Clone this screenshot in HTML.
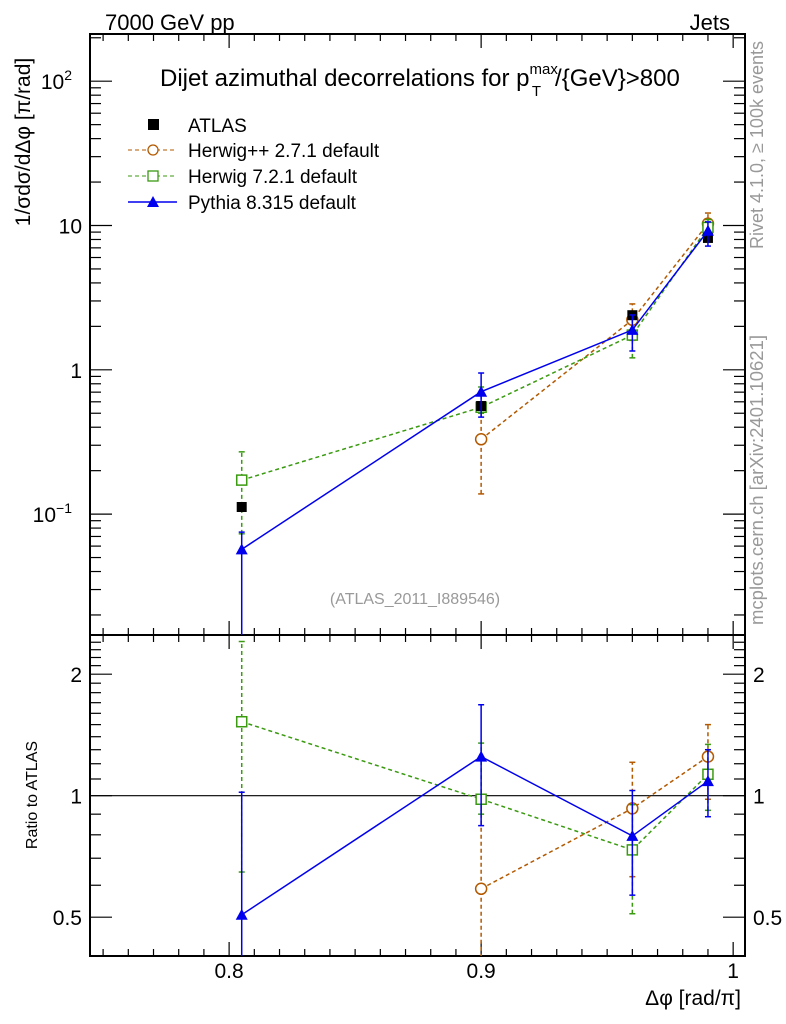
<!DOCTYPE html>
<html><head><meta charset="utf-8"><style>
body{margin:0;background:#fff}
svg{display:block;font-family:"Liberation Sans",sans-serif}
</style></head><body>
<svg id="c" width="786" height="1024" viewBox="0 0 786 1024">
<text x="105" y="30" font-size="22">7000 GeV pp</text>
<text x="730" y="30" font-size="22" text-anchor="end">Jets</text>
<text x="160" y="86" font-size="24">Dijet azimuthal decorrelations for p<tspan dy="-12" font-size="15">max</tspan><tspan dx="-26" dy="22" font-size="15">T</tspan><tspan dx="14" dy="-10">/{GeV}&gt;800</tspan></text>
<text transform="translate(30,142) rotate(-90)" font-size="21" text-anchor="middle">1/σdσ/dΔφ [π/rad]</text>
<text transform="translate(37,795) rotate(-90)" font-size="16" text-anchor="middle">Ratio to ATLAS</text>
<text x="741" y="1005" font-size="21" text-anchor="end">Δφ [rad/π]</text>
<text transform="translate(763,145) rotate(-90)" font-size="18" fill="#999" text-anchor="middle">Rivet 4.1.0, ≥ 100k events</text>
<text transform="translate(763,480) rotate(-90)" font-size="18.5" fill="#999" text-anchor="middle">mcplots.cern.ch [arXiv:2401.10621]</text>
<text x="415" y="604" font-size="16" fill="#999" text-anchor="middle">(ATLAS_2011_I889546)</text>
<g id="legend">
<rect x="148" y="119" width="11" height="11" fill="#000"/>
<text x="188" y="132" font-size="19">ATLAS</text>
<line x1="128" y1="150" x2="177" y2="150" stroke="#b35900" stroke-dasharray="4,3"/>
<circle cx="153" cy="150" r="5" fill="#fff" stroke="#b35900" stroke-width="1.3"/>
<text x="188" y="157" font-size="19">Herwig++ 2.7.1 default</text>
<line x1="128" y1="176" x2="177" y2="176" stroke="#3a9a10" stroke-dasharray="4,3"/>
<rect x="148" y="171" width="10" height="10" fill="#fff" stroke="#3a9a10" stroke-width="1.3"/>
<text x="188" y="183" font-size="19">Herwig 7.2.1 default</text>
<line x1="128" y1="202" x2="177" y2="202" stroke="#0000ee" stroke-width="1.5"/>
<path d="M147,207 L153,196 L159,207 Z" fill="#0000ee"/>
<text x="188" y="209" font-size="19">Pythia 8.315 default</text>
</g>
</svg>
<script>
const xs=[0.805,0.9,0.96,0.99];
const atlasVals=[0.112,0.561,2.39,8.2];
const pyVals=[0.057,0.705,1.89,9.2];
const pyLo=[0.001,0.47,1.35,7.2];
const pyHi=[0.075,0.95,2.4,10.6];
const h7Vals=[0.172,0.55,1.74,9.7];
const h7Lo=[0.073,0.5,1.21,8.6];
const h7Hi=[0.27,0.76,2.3,11];
const hpVals=[null,0.33,2.22,10.3];
const hpLo=[null,0.138,1.6,9];
const hpHi=[null,0.55,2.86,12.2];
const rPy=[0.507,1.25,0.795,1.087];
const rPyLo=[0.3,0.843,0.567,0.887];
const rPyHi=[1.02,1.68,1.03,1.30];
const rH7=[1.525,0.98,0.734,1.13];
const rH7Lo=[0.647,0.9,0.51,0.92];
const rH7Hi=[2.41,1.35,0.95,1.34];
const rHp=[null,0.588,0.93,1.25];
const rHpLo=[null,0.3,0.63,0.98];
const rHpHi=[null,0.98,1.21,1.5];
const xTicks=[0.8,0.9,1];
const xTickLabels=["0.8","0.9","1"];
const rTicks=[0.5,1,2];
const rTickLabels=["0.5","1","2"];

const NS="http://www.w3.org/2000/svg";
const svg=document.getElementById('c');
const L=90,R=745,T=34,M=635,B=956;
const X0=0.7448,X1=1.0047;
const X=v=>L+(v-X0)/(X1-X0)*(R-L);
const Y=v=>369.8-Math.log10(v)*144.3;
const RY=v=>795.7-Math.log2(v)*121.5;
function mk(t,a,p){const e=document.createElementNS(NS,t);for(const k in a)e.setAttribute(k,a[k]);(p||svg).appendChild(e);return e;}
const clip=mk('clipPath',{id:'cm'});mk('rect',{x:L,y:T,width:R-L,height:M-T},clip);
const clip2=mk('clipPath',{id:'cr'});mk('rect',{x:L,y:M,width:R-L,height:B-M},clip2);

const f1=mk('rect',{x:L,y:T,width:R-L,height:M-T,fill:'none',stroke:'#000','stroke-width':2});


const f2=mk('rect',{x:L,y:M,width:R-L,height:B-M,fill:'none',stroke:'#000','stroke-width':2});



for(let i=75;i<=100;i++){const v=i/100;const x=X(v);const maj=(i%10===0);const len=maj?14:7;
 for(const [yb,dir] of [[T,1],[M,-1],[M,1],[B,-1]]){mk('line',{x1:x,y1:yb,x2:x,y2:yb+dir*len,stroke:'#000','stroke-width':1.2});}}
xTicks.forEach((v,i)=>{const t=mk('text',{x:X(v),y:978,'font-size':21,'text-anchor':'middle'});t.textContent=xTickLabels[i];

});

for(let d=-2;d<=2;d++){for(let m=1;m<=9;m++){const v=m*Math.pow(10,d);const y=Y(v);if(y<T||y>M)continue;const len=m===1?22:11;
 mk('line',{x1:L,y1:y,x2:L+len,y2:y,stroke:'#000','stroke-width':1.2});mk('line',{x1:R,y1:y,x2:R-len,y2:y,stroke:'#000','stroke-width':1.2});}}
[[0.1,'10','−1'],[1,'1',null],[10,'10',null],[100,'10','2']].forEach(([v,b,e])=>{const t=mk('text',{x:e?72:82,y:Y(v)+8,'font-size':21,'text-anchor':'end'});
 t.textContent=b;if(e){const s=mk('tspan',{dy:-9,'font-size':14},t);s.textContent=e;}
 
 });

[0.4,0.5,0.6,0.7,0.8,0.9,1,1.1,1.2,1.3,1.4,1.5,1.6,1.7,1.8,1.9,2,2.1,2.2,2.3,2.4].forEach(v=>{const y=RY(v);const maj=[0.5,1,2].includes(v);const len=maj?22:11;
 mk('line',{x1:L,y1:y,x2:L+len,y2:y,stroke:'#000','stroke-width':1.2});mk('line',{x1:R,y1:y,x2:R-len,y2:y,stroke:'#000','stroke-width':1.2});});
rTicks.forEach((v,i)=>{for(const [x,a] of [[82,'end'],[753,'start']]){const t=mk('text',{x:x,y:RY(v)+8,'font-size':21,'text-anchor':a});t.textContent=rTickLabels[i];

}});
mk('line',{x1:L,y1:RY(1),x2:R,y2:RY(1),stroke:'#000','stroke-width':1.2});

function series(vals,lo,hi,yf,color,dash,marker,cp,name){
 const g=mk('g',{'clip-path':'url(#'+cp+')'});
 
 
 let d='';vals.forEach((v,i)=>{if(v==null)return;d+=(d?'L':'M')+X(xs[i])+','+yf(v);});
 mk('path',{d:d,fill:'none',stroke:color,'stroke-width':1.5,'stroke-dasharray':dash||''},g);
 vals.forEach((v,i)=>{if(v==null)return;const x=X(xs[i]);
  if(lo){mk('line',{x1:x,y1:yf(lo[i]),x2:x,y2:yf(hi[i]),stroke:color,'stroke-width':1.5,'stroke-dasharray':dash||''},g);
   mk('line',{x1:x-3,y1:yf(lo[i]),x2:x+3,y2:yf(lo[i]),stroke:color,'stroke-width':1.5},g);
   mk('line',{x1:x-3,y1:yf(hi[i]),x2:x+3,y2:yf(hi[i]),stroke:color,'stroke-width':1.5},g);}
  const y=yf(v);let m;
  if(marker==='sq')m=mk('rect',{x:x-5,y:y-5,width:10,height:10,fill:'#fff',stroke:color,'stroke-width':1.5},g);
  else if(marker==='circ')m=mk('circle',{cx:x,cy:y,r:5.5,fill:'#fff',stroke:color,'stroke-width':1.5},g);
  else m=mk('path',{d:`M${x-6},${y+5}L${x},${y-6}L${x+6},${y+5}Z`,fill:color},g);
  
  
 });
}
series(hpVals,hpLo,hpHi,Y,'#b35900','4,3','circ','cm','herwigpp-series');
series(h7Vals,h7Lo,h7Hi,Y,'#3a9a10','4,3','sq','cm','herwig7-series');
(function(){const g=mk('g',{'clip-path':'url(#cm)'});


atlasVals.forEach((v,i)=>{const r=mk('rect',{x:X(xs[i])-5,y:Y(v)-5,width:10,height:10,fill:'#000'},g);

});})();
series(pyVals,pyLo,pyHi,Y,'#0000ee',null,'tri','cm','pythia-series');
series(rHp,rHpLo,rHpHi,RY,'#b35900','4,3','circ','cr','herwigpp-ratio');
series(rH7,rH7Lo,rH7Hi,RY,'#3a9a10','4,3','sq','cr','herwig7-ratio');
series(rPy,rPyLo,rPyHi,RY,'#0000ee',null,'tri','cr','pythia-ratio');
</script>
</body></html>
